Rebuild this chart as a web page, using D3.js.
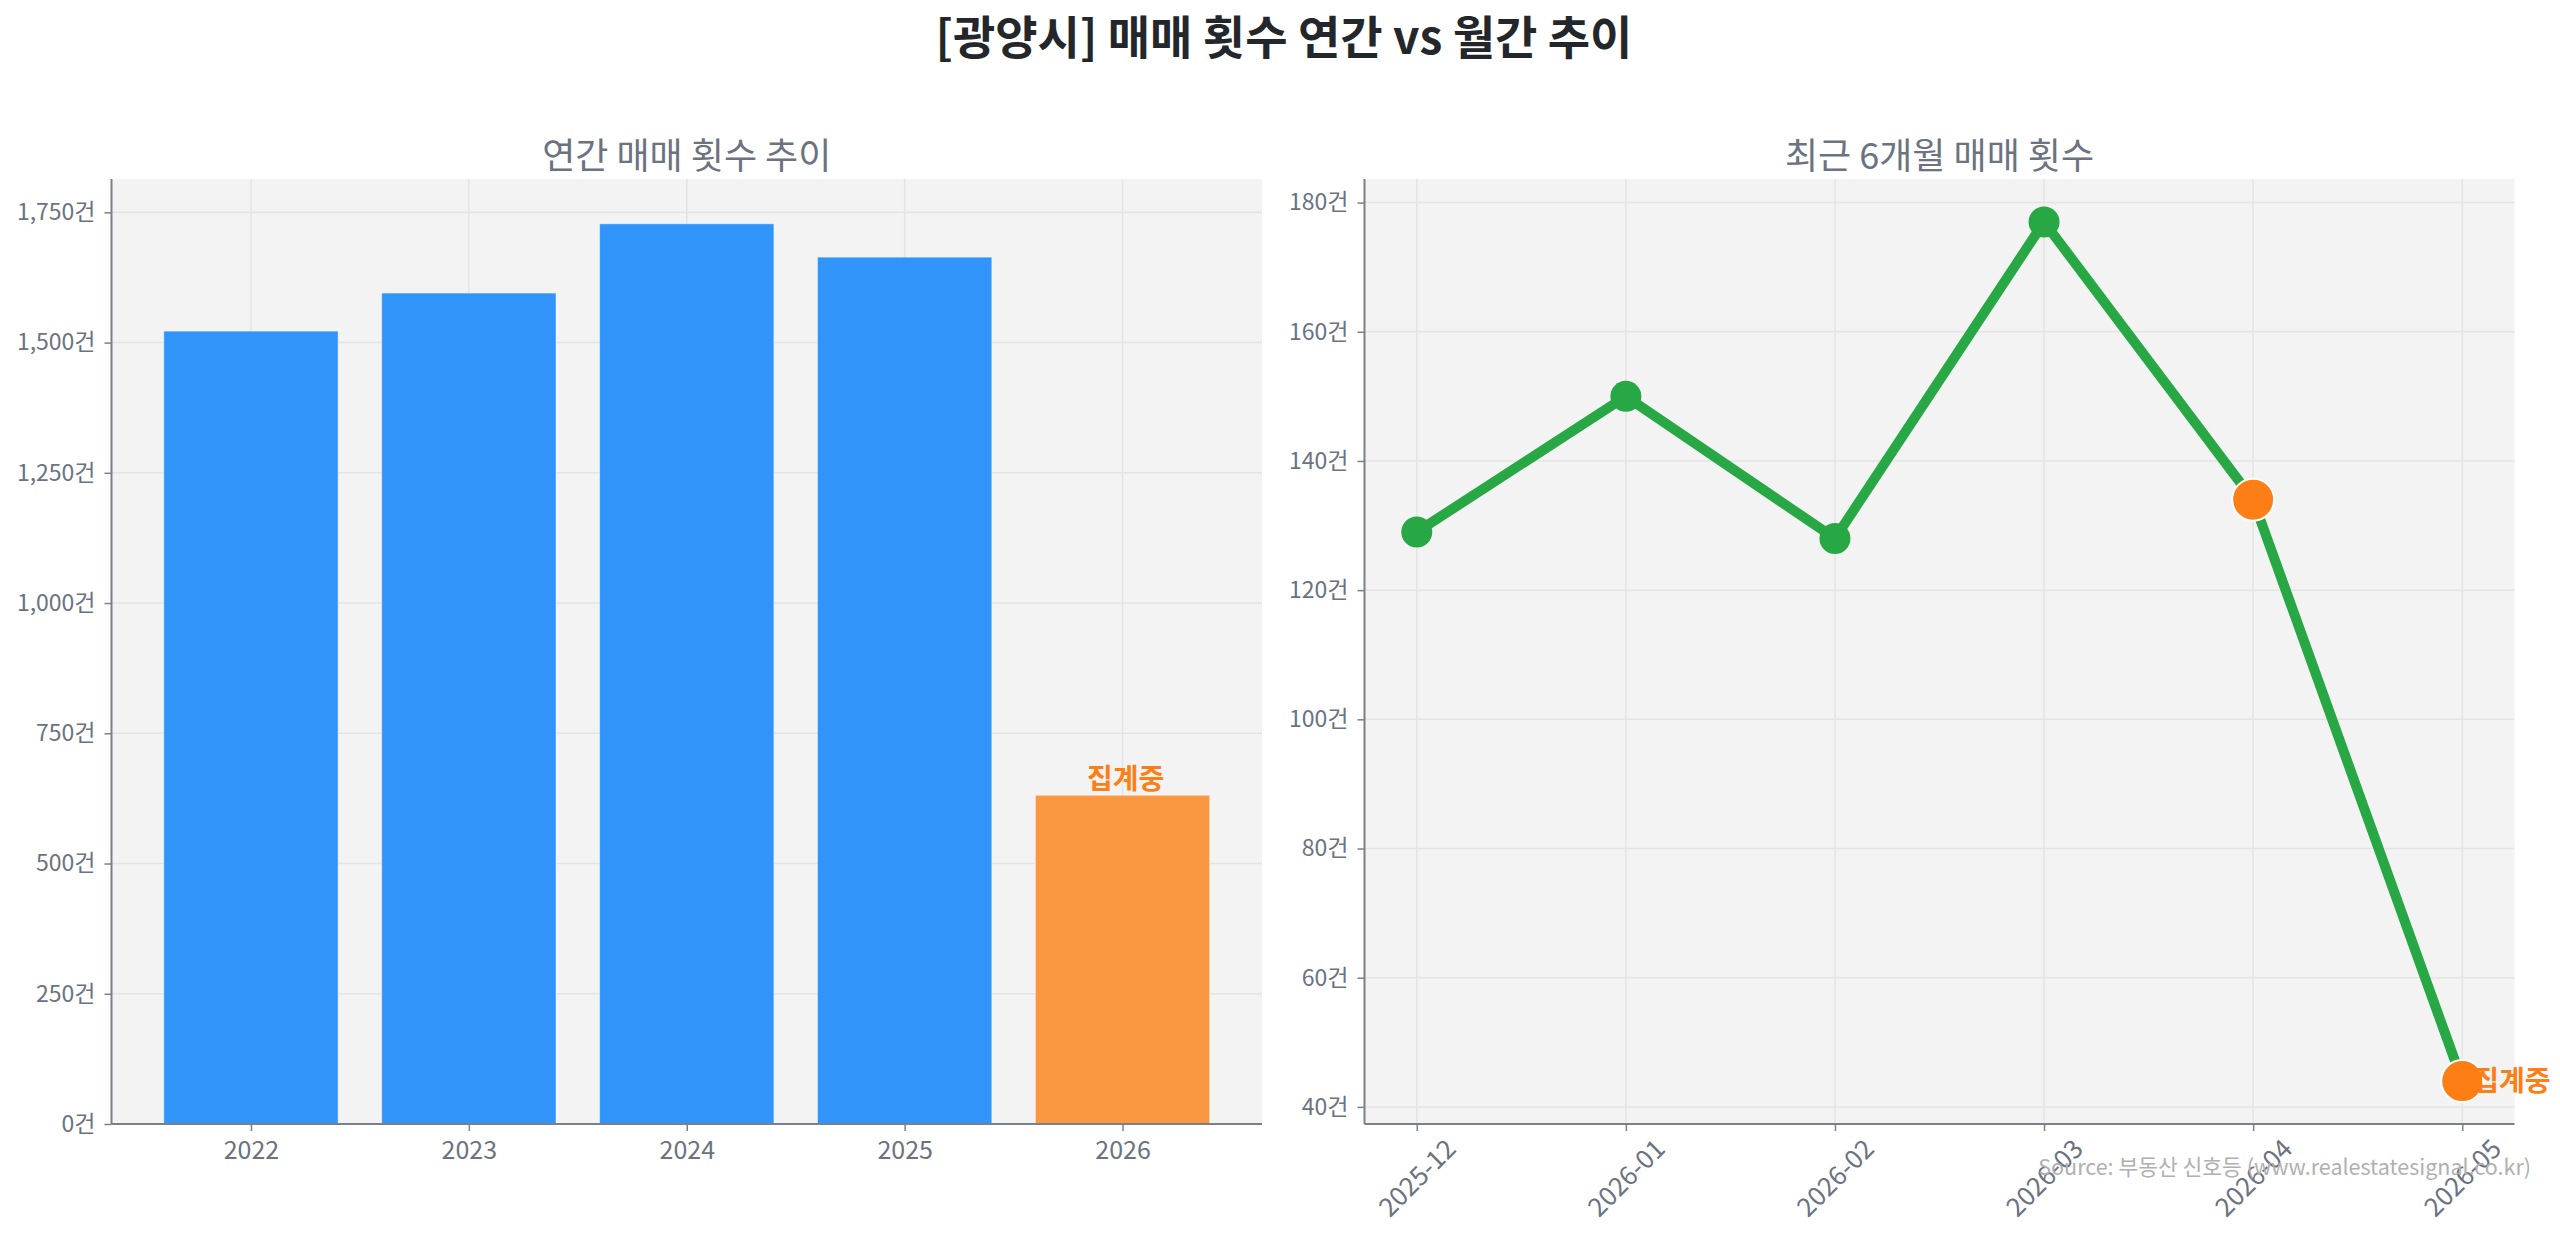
<!DOCTYPE html>
<html><head><meta charset="utf-8">
<script src="https://cdn.jsdelivr.net/npm/d3@7"></script>
<style>
html,body{margin:0;padding:0;background:#fff;}
svg{display:block;font-family:"Noto Sans CJK KR","Noto Sans",sans-serif;}
</style></head>
<body><svg id="c" width="2560" height="1234"></svg>
<script>
// ---- data ----
const years = ["2022", "2023", "2024", "2025", "2026"];
const yearCounts = [1522, 1595, 1728, 1664, 631];
const yearPending = [false, false, false, false, true];
const yearTicks = [0, 250, 500, 750, 1000, 1250, 1500, 1750];

const months = ["2025-12", "2026-01", "2026-02", "2026-03", "2026-04", "2026-05"];
const monthCounts = [129, 150, 128, 177, 134, 44];
const monthPending = [false, false, false, false, true, true];
const monthTicks = [40, 60, 80, 100, 120, 140, 160, 180];

const mainTitle = "[광양시] 매매 횟수 연간 vs 월간 추이";
const leftTitle = "연간 매매 횟수 추이";
const rightTitle = "최근 6개월 매매 횟수";
const pendingLabel = "집계중";
const sourceText = "Source: 부동산 신호등 (www.realestatesignal.co.kr)";

// ---- styles ----
const C = {
  bg: "#f3f3f3", grid: "#e4e4e4", spine: "#7a808a", tick: "#6b7280",
  blue: "#3194fb", orangeBar: "#f99840", orange: "#fd7e14", green: "#28a745",
  title: "#23272b", sub: "#6b7280", source: "#b0b0b0"
};
const svg = d3.select("#c");
const fmt = d3.format(",");

svg.append("text").attr("x", 1284).attr("y", 54).attr("text-anchor", "middle")
  .attr("font-size", 46).attr("font-weight", "bold").attr("fill", C.title).text(mainTitle);

const plotTop = 179, plotBottom = 1124;

function frame(x0, x1, title) {
  const g = svg.append("g");
  g.append("rect").attr("x", x0).attr("y", plotTop).attr("width", x1 - x0).attr("height", plotBottom - plotTop).attr("fill", C.bg);
  svg.append("text").attr("x", (x0 + x1) / 2).attr("y", 169).attr("text-anchor", "middle")
    .attr("font-size", 36).attr("fill", C.sub).text(title);
  return g;
}
function styleAxis(a, fs) {
  a.select(".domain").remove();
  a.selectAll(".tick line").attr("stroke", C.spine).attr("stroke-width", 1.5);
  a.selectAll(".tick text").attr("fill", C.tick).attr("font-size", fs)
    .attr("font-family", "'Noto Sans CJK KR','Noto Sans',sans-serif");
}

// ---- left panel: bars ----
const L0 = 111.5, L1 = 1262;
const xL = d3.scaleLinear().domain([-0.64, years.length - 1 + 0.64]).range([L0, L1]);
const yL = d3.scaleLinear().domain([0, 1814]).range([plotBottom, plotTop]);
const gL = frame(L0, L1, leftTitle);
gL.selectAll(".gy").data(yearTicks).join("line").attr("x1", L0).attr("x2", L1)
  .attr("y1", d => yL(d)).attr("y2", d => yL(d)).attr("stroke", C.grid).attr("stroke-width", 1.5);
gL.selectAll(".gx").data(years.map((d, i) => i)).join("line").attr("y1", plotTop).attr("y2", plotBottom)
  .attr("x1", d => xL(d)).attr("x2", d => xL(d)).attr("stroke", C.grid).attr("stroke-width", 1.5);
const bw = xL(0.4) - xL(0);
gL.selectAll(".bar").data(yearCounts).join("rect")
  .attr("x", (d, i) => xL(i) - bw).attr("width", bw * 2)
  .attr("y", d => yL(d)).attr("height", d => yL(0) - yL(d))
  .attr("fill", (d, i) => yearPending[i] ? C.orangeBar : C.blue)
  .attr("stroke", "rgba(255,255,255,0.45)").attr("stroke-width", 1);
gL.selectAll(".plab").data(yearCounts.map((d, i) => ({ d, i })).filter(o => yearPending[o.i])).join("text")
  .attr("x", o => xL(o.i) + 3).attr("y", o => yL(o.d) - 6).attr("text-anchor", "middle")
  .attr("font-size", 28).attr("font-weight", "bold").attr("fill", C.orange).text(pendingLabel);
const axL = svg.append("g").attr("transform", `translate(${L0},0)`)
  .call(d3.axisLeft(yL).tickValues(yearTicks).tickSize(7).tickPadding(9).tickFormat(d => fmt(d) + "건"));
styleAxis(axL, 23);
const axLB = svg.append("g").attr("transform", `translate(0,${plotBottom})`)
  .call(d3.axisBottom(xL).tickValues(years.map((d, i) => i)).tickSize(7).tickPadding(10).tickFormat(i => years[i]));
styleAxis(axLB, 25);
svg.append("line").attr("x1", L0).attr("x2", L0).attr("y1", plotTop).attr("y2", plotBottom).attr("stroke", C.spine).attr("stroke-width", 2);
svg.append("line").attr("x1", L0).attr("x2", L1).attr("y1", plotBottom).attr("y2", plotBottom).attr("stroke", C.spine).attr("stroke-width", 2);

// ---- right panel: line ----
const R0 = 1364.5, R1 = 2514.5;
const xR = d3.scaleLinear().domain([-0.25, months.length - 1 + 0.25]).range([R0, R1]);
const yR = d3.scaleLinear().domain([37.35, 183.65]).range([plotBottom, plotTop]);
const gR = frame(R0, R1, rightTitle);
gR.selectAll(".gy").data(monthTicks).join("line").attr("x1", R0).attr("x2", R1)
  .attr("y1", d => yR(d)).attr("y2", d => yR(d)).attr("stroke", C.grid).attr("stroke-width", 1.5);
gR.selectAll(".gx").data(months.map((d, i) => i)).join("line").attr("y1", plotTop).attr("y2", plotBottom)
  .attr("x1", d => xR(d)).attr("x2", d => xR(d)).attr("stroke", C.grid).attr("stroke-width", 1.5);
const line = d3.line().x((d, i) => xR(i)).y(d => yR(d));
gR.append("path").datum(monthCounts).attr("d", line).attr("fill", "none")
  .attr("stroke", C.green).attr("stroke-width", 10).attr("stroke-linejoin", "round");
gR.selectAll(".pt").data(monthCounts).join("circle")
  .attr("cx", (d, i) => xR(i)).attr("cy", d => yR(d))
  .attr("r", (d, i) => monthPending[i] ? 21 : 15.5)
  .attr("fill", (d, i) => monthPending[i] ? C.orange : C.green)
  .attr("stroke", (d, i) => monthPending[i] ? "#fff" : "none").attr("stroke-width", 2);
const lastI = months.length - 1;
svg.append("text").attr("x", xR(lastI) + 11).attr("y", yR(monthCounts[lastI])).attr("dy", "0.35em")
  .attr("font-size", 28).attr("font-weight", "bold").attr("fill", C.orange).text(pendingLabel);

const axR = svg.append("g").attr("transform", `translate(${R0},0)`)
  .call(d3.axisLeft(yR).tickValues(monthTicks).tickSize(7).tickPadding(9).tickFormat(d => fmt(d) + "건"));
styleAxis(axR, 23);
const axRB = svg.append("g").attr("transform", `translate(0,${plotBottom})`)
  .call(d3.axisBottom(xR).tickValues(months.map((d, i) => i)).tickSize(7).tickPadding(9).tickFormat(i => months[i]));
styleAxis(axRB, 26);
axRB.selectAll(".tick text").each(function () {
  const t = d3.select(this);
  const w = this.getComputedTextLength(), h = 26;
  const bh = (w + h) / Math.SQRT2;
  t.attr("y", null).attr("dy", "0.35em").attr("text-anchor", "middle")
    .attr("transform", `translate(0,${11 + bh / 2}) rotate(-45)`);
});
svg.append("line").attr("x1", R0).attr("x2", R0).attr("y1", plotTop).attr("y2", plotBottom).attr("stroke", C.spine).attr("stroke-width", 2);
svg.append("line").attr("x1", R0).attr("x2", R1).attr("y1", plotBottom).attr("y2", plotBottom).attr("stroke", C.spine).attr("stroke-width", 2);

svg.append("text").attr("x", 2531).attr("y", 1175).attr("text-anchor", "end")
  .attr("font-size", 21.5).attr("fill", C.source).text(sourceText);
</script></body></html>
